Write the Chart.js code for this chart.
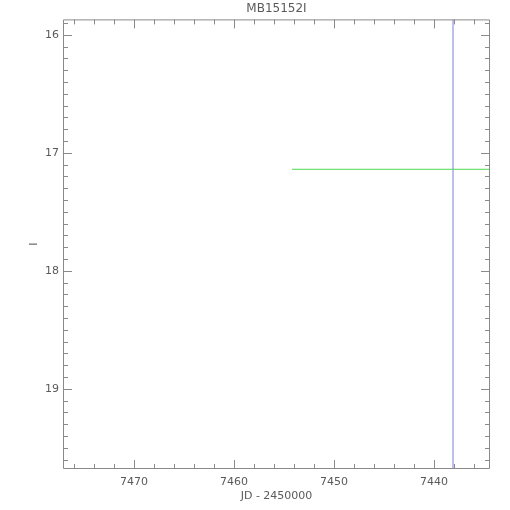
<!DOCTYPE html>
<html lang="en">
<head>
    <meta charset="UTF-8">
    <title>MB15152I</title>
    <script src="https://cdn.jsdelivr.net/npm/chart.js"></script>
    <style>
        html, body { margin: 0; padding: 0; background: white; }
        #wrap { width: 510px; height: 510px; }
    </style>
</head>
<body>
    <div id="wrap"><canvas id="lc"></canvas></div>

    <script>
        // data
        const cutX = [7438.1, 7438.1];      // vertical marker (JD - 2450000)
        const cutY = [15.87, 19.68];
        const baseX = [7454.2, 7434.4];     // baseline magnitude
        const baseY = [17.14, 17.14];

        const xTicks = [7470, 7460, 7450, 7440];
        const yTicks = [16, 17, 18, 19];
        const xRange = [7434.4, 7477.1];
        const yRange = [15.87, 19.68];

        const axisCol = '#8a8a8a';
        const textCol = '#5a5a5a';

        // IDL style box with inward ticks on all four sides
        const boxTicks = {
            id: 'boxTicks',
            afterDatasetsDraw(chart) {
                const { ctx, chartArea: a, scales: { x, y } } = chart;
                ctx.save();
                ctx.strokeStyle = axisCol;
                ctx.lineWidth = 1;
                ctx.beginPath();
                ctx.rect(a.left + 0.5, a.top + 0.5, a.right - a.left - 1, a.bottom - a.top - 1);
                for (let v = 7436; v <= 7476; v += 2) {
                    const px = Math.round(x.getPixelForValue(v)) + 0.5;
                    const len = v % 10 === 0 ? 9 : 5;
                    ctx.moveTo(px, a.bottom); ctx.lineTo(px, a.bottom - len);
                    ctx.moveTo(px, a.top); ctx.lineTo(px, a.top + len);
                }
                for (let i = 159; i <= 196; i++) {
                    const py = Math.round(y.getPixelForValue(i / 10)) + 0.5;
                    const len = i % 10 === 0 ? 9 : 5;
                    ctx.moveTo(a.left, py); ctx.lineTo(a.left + len, py);
                    ctx.moveTo(a.right, py); ctx.lineTo(a.right - len, py);
                }
                ctx.stroke();
                ctx.restore();
            }
        };

        new Chart(document.getElementById('lc'), {
            type: 'scatter',
            data: {
                datasets: [
                    {
                        data: baseX.map((v, i) => ({ x: v, y: baseY[i] })),
                        showLine: true, borderColor: '#4fd84f', borderWidth: 1,
                        pointRadius: 0
                    },
                    {
                        data: cutX.map((v, i) => ({ x: v, y: cutY[i] })),
                        showLine: true, borderColor: '#b4b4f0', borderWidth: 1,
                        pointRadius: 0
                    }
                ]
            },
            options: {
                responsive: true,
                maintainAspectRatio: false,
                animation: false,
                layout: { padding: { right: 20, top: 0, bottom: 0, left: 0 } },
                plugins: {
                    legend: { display: false },
                    tooltip: { enabled: false },
                    title: {
                        display: true, text: 'MB15152I', color: textCol,
                        fullSize: false,
                        font: { family: 'DejaVu Sans', size: 12, weight: 'normal', lineHeight: 1.2 },
                        padding: { top: 2, bottom: 3 }
                    }
                },
                scales: {
                    x: {
                        type: 'linear', reverse: true,
                        min: xRange[0], max: xRange[1],
                        afterFit: s => { s.height = 41; },
                        afterBuildTicks: s => { s.ticks = xTicks.map(v => ({ value: v })); },
                        grid: { display: false, drawTicks: false, tickLength: 0 },
                        border: { display: false },
                        ticks: {
                            color: textCol, padding: 7, maxRotation: 0,
                            font: { family: 'DejaVu Sans', size: 11 },
                            callback: v => String(v)
                        },
                        title: {
                            display: true, text: 'JD - 2450000', color: textCol,
                            font: { family: 'DejaVu Sans', size: 11 },
                            padding: { top: 0, bottom: 7 }
                        }
                    },
                    y: {
                        type: 'linear', reverse: true,
                        min: yRange[0], max: yRange[1],
                        afterFit: s => { s.width = 63; },
                        afterBuildTicks: s => { s.ticks = yTicks.map(v => ({ value: v })); },
                        grid: { display: false, drawTicks: false, tickLength: 0 },
                        border: { display: false },
                        ticks: {
                            color: textCol, padding: 4,
                            font: { family: 'DejaVu Sans', size: 11 },
                            callback: v => String(v)
                        },
                        title: {
                            display: true, text: 'I', color: textCol,
                            font: { family: 'DejaVu Sans', size: 11 },
                            padding: { top: 28, bottom: 0 }
                        }
                    }
                }
            },
            plugins: [boxTicks]
        });
    </script>
</body>
</html>
